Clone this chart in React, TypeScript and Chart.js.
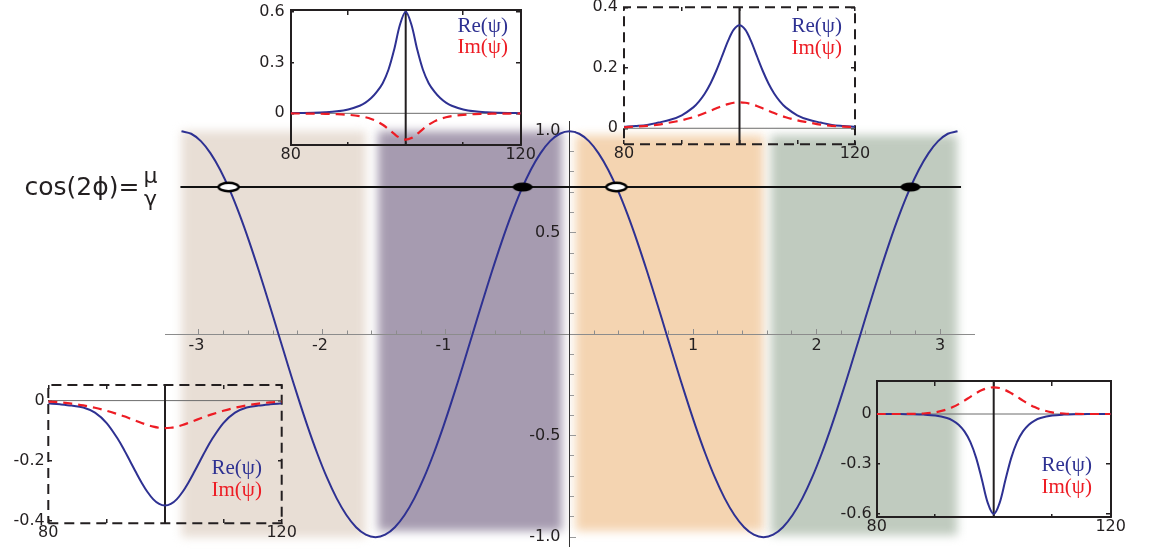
import { useEffect, useRef } from 'react';
import { Chart, registerables } from 'chart.js';

Chart.register(...registerables);

// ---------- main plot: cos(2φ) over one period ----------
const phiSamples = [
  -3.1416, -3.063, -2.9845, -2.906, -2.8274, -2.7489, -2.6704, -2.5918, -2.5133, -2.4347,
  -2.3562, -2.2777, -2.1991, -2.1206, -2.042, -1.9635, -1.885, -1.8064, -1.7279, -1.6493,
  -1.5708, -1.4923, -1.4137, -1.3352, -1.2566, -1.1781, -1.0996, -1.021, -0.9425, -0.8639,
  -0.7854, -0.7069, -0.6283, -0.5498, -0.4712, -0.3927, -0.3142, -0.2356, -0.1571, -0.0785,
  0, 0.0785, 0.1571, 0.2356, 0.3142, 0.3927, 0.4712, 0.5498, 0.6283, 0.7069,
  0.7854, 0.8639, 0.9425, 1.021, 1.0996, 1.1781, 1.2566, 1.3352, 1.4137, 1.4923,
  1.5708, 1.6493, 1.7279, 1.8064, 1.885, 1.9635, 2.042, 2.1206, 2.1991, 2.2777,
  2.3562, 2.4347, 2.5133, 2.5918, 2.6704, 2.7489, 2.8274, 2.906, 2.9845, 3.063, 3.1416,
];
const cos2phi = [
  1, 0.9877, 0.9511, 0.891, 0.809, 0.7071, 0.5878, 0.454, 0.309, 0.1564,
  0, -0.1564, -0.309, -0.454, -0.5878, -0.7071, -0.809, -0.891, -0.9511, -0.9877,
  -1, -0.9877, -0.9511, -0.891, -0.809, -0.7071, -0.5878, -0.454, -0.309, -0.1564,
  0, 0.1564, 0.309, 0.454, 0.5878, 0.7071, 0.809, 0.891, 0.9511, 0.9877,
  1, 0.9877, 0.9511, 0.891, 0.809, 0.7071, 0.5878, 0.454, 0.309, 0.1564,
  0, -0.1564, -0.309, -0.454, -0.5878, -0.7071, -0.809, -0.891, -0.9511, -0.9877,
  -1, -0.9877, -0.9511, -0.891, -0.809, -0.7071, -0.5878, -0.454, -0.309, -0.1564,
  0, 0.1564, 0.309, 0.454, 0.5878, 0.7071, 0.809, 0.891, 0.9511, 0.9877, 1,
];

// the level μ/γ and where cos(2φ) meets it
const muOverGamma = 0.725;
const levelSpan = [-3.15, 3.17];
const openRoots = [-2.76, 0.38];
const filledRoots = [-0.38, 2.76];

// axis ticks
const xMajorTicks = [-3, -2, -1, 1, 2, 3];
const xMajorLabels = ['-3', '-2', '-1', '1', '2', '3'];
const yMajorTicks = [-1, -0.5, 0.5, 1];
const yMajorLabels = ['-1.0', '-0.5', '0.5', '1.0'];
const xMinorStep = 0.2;
const yMinorStep = 0.1;

// shaded φ sectors
const sectorStart = [-3.14, -1.55, 0.05, 1.63];
const sectorEnd = [-1.65, -0.06, 1.57, 3.14];
const sectorTop = [1.0, 1.0, 0.98, 0.98];
const sectorBottom = [-1.0, -0.97, -0.97, -0.99];
const sectorColors = ['#e8ded5', '#a69bb0', '#f4d4b1', '#c0cbbf'];

// ---------- insets: profiles of ψ ----------
const insetX = [
  80, 82, 84, 86, 88, 90, 92, 93, 94, 95, 96, 97, 98, 99, 100,
  101, 102, 103, 104, 105, 106, 107, 108, 110, 112, 114, 116, 118, 120,
];
const insetCentre = 100;
const insetXTicks = [80, 90, 100, 110, 120];
const insetXLabels = ['80', '', '', '', '120'];

const reUpperLeft = [
  0.001, 0.002, 0.0036, 0.0066, 0.012, 0.023, 0.045, 0.063, 0.09, 0.128, 0.178, 0.257, 0.377, 0.523, 0.6,
  0.523, 0.377, 0.257, 0.178, 0.128, 0.09, 0.063, 0.045, 0.023, 0.012, 0.0066, 0.0036, 0.002, 0.001,
];
const imUpperLeft = [
  -0.0008, -0.0012, -0.0018, -0.0029, -0.0049, -0.0087, -0.0165, -0.0233, -0.0332, -0.0475, -0.0675, -0.0931, -0.1216, -0.1455, -0.155,
  -0.1455, -0.1216, -0.0931, -0.0675, -0.0475, -0.0332, -0.0233, -0.0165, -0.0087, -0.0049, -0.0029, -0.0018, -0.0012, -0.0008,
];
const yTicksUpperLeft = [0, 0.3, 0.6];
const yLabelsUpperLeft = ['0', '0.3', '0.6'];

const reUpperRight = [
  0.0048, 0.0075, 0.011, 0.019, 0.028, 0.043, 0.069, 0.089, 0.115, 0.149, 0.191, 0.239, 0.288, 0.326, 0.341,
  0.326, 0.288, 0.239, 0.191, 0.149, 0.115, 0.089, 0.069, 0.043, 0.028, 0.019, 0.011, 0.0075, 0.0048,
];
const imUpperRight = [
  0.0034, 0.0056, 0.0082, 0.012, 0.0191, 0.0264, 0.0366, 0.043, 0.0502, 0.058, 0.0661, 0.0738, 0.08, 0.0845, 0.086,
  0.0845, 0.08, 0.0738, 0.0661, 0.058, 0.0502, 0.043, 0.0366, 0.0264, 0.0191, 0.012, 0.0082, 0.0056, 0.0034,
];
const yTicksUpperRight = [0, 0.2, 0.4];
const yLabelsUpperRight = ['0', '0.2', '0.4'];

const reLowerLeft = [
  -0.0091, -0.0123, -0.0165, -0.0231, -0.0403, -0.0751, -0.1307, -0.1647, -0.2011, -0.2382, -0.2736, -0.3047, -0.3291, -0.3446, -0.35,
  -0.3446, -0.3291, -0.3047, -0.2736, -0.2382, -0.2011, -0.1647, -0.1307, -0.0751, -0.0403, -0.0231, -0.0165, -0.0123, -0.0091,
];
const imLowerLeft = [
  -0.0032, -0.006, -0.0101, -0.0161, -0.0239, -0.034, -0.046, -0.0524, -0.0598, -0.0672, -0.0745, -0.0814, -0.0869, -0.0906, -0.092,
  -0.0906, -0.0869, -0.0814, -0.0745, -0.0672, -0.0598, -0.0524, -0.046, -0.034, -0.0239, -0.0161, -0.0101, -0.006, -0.0032,
];
const yTicksLowerLeft = [-0.4, -0.2, 0];
const yLabelsLowerLeft = ['-0.4', '-0.2', '0'];

const reLowerRight = [
  0, -0.0002, -0.0005, -0.0013, -0.0034, -0.009, -0.024, -0.039, -0.064, -0.104, -0.167, -0.263, -0.396, -0.535, -0.6,
  -0.535, -0.396, -0.263, -0.167, -0.104, -0.064, -0.039, -0.024, -0.009, -0.0034, -0.0013, -0.0005, -0.0002, 0,
];
const imLowerRight = [
  0, 0, 0.0001, 0.0007, 0.003, 0.0102, 0.0275, 0.0414, 0.0594, 0.0803, 0.103, 0.1248, 0.1434, 0.1557, 0.16,
  0.1557, 0.1434, 0.1248, 0.103, 0.0803, 0.0594, 0.0414, 0.0275, 0.0102, 0.003, 0.0007, 0.0001, 0, 0,
];
const yTicksLowerRight = [-0.6, -0.3, 0];
const yLabelsLowerRight = ['-0.6', '-0.3', '0'];

const reName = 'Re(ψ)';
const imName = 'Im(ψ)';

// ---------- styling ----------
const NAVY = '#2e3192';
const RED = '#ed1c24';
const INK = '#231f20';
const SANS = '"DejaVu Sans", "Liberation Sans", sans-serif';
const SERIF = '"Liberation Serif", "Times New Roman", serif';
const PAGE_W = 1151;
const PAGE_H = 550;
const SMOOTH = 0.33;

// main plot geometry
const MAIN_H = 566;
const MAIN_PAD = { left: 165, right: 177, top: 121.7, bottom: 19.3 };
const X_RANGE = { min: -3.275, max: 3.275 };
const Y_RANGE = { min: -1.047, max: 1.047 };

type Frame = { left: number; top: number; width: number; height: number };
type InsetSpec = {
  frame: Frame;
  yMin: number;
  yMax: number;
  yTicks: number[];
  yLabels: string[];
  re: number[];
  im: number[];
  dashed: boolean;
  labelGap: number;
  legendRight: number;
  legendY: [number, number];
};

const INSETS: InsetSpec[] = [
  {
    frame: { left: 290.7, top: 9.5, width: 230, height: 135.5 },
    yMin: -0.187, yMax: 0.613,
    yTicks: yTicksUpperLeft, yLabels: yLabelsUpperLeft,
    re: reUpperLeft, im: imUpperLeft,
    dashed: false, labelGap: 6, legendRight: 508, legendY: [26, 47],
  },
  {
    frame: { left: 624, top: 7.3, width: 231, height: 137 },
    yMin: -0.053, yMax: 0.4,
    yTicks: yTicksUpperRight, yLabels: yLabelsUpperRight,
    re: reUpperRight, im: imUpperRight,
    dashed: true, labelGap: 6, legendRight: 842, legendY: [26, 48],
  },
  {
    frame: { left: 48.3, top: 385, width: 233.4, height: 138.3 },
    yMin: -0.409, yMax: 0.052,
    yTicks: yTicksLowerLeft, yLabels: yLabelsLowerLeft,
    re: reLowerLeft, im: imLowerLeft,
    dashed: true, labelGap: 3.5, legendRight: 262, legendY: [468, 490],
  },
  {
    frame: { left: 876.7, top: 381, width: 234, height: 135.7 },
    yMin: -0.616, yMax: 0.198,
    yTicks: yTicksLowerRight, yLabels: yLabelsLowerRight,
    re: reLowerRight, im: imLowerRight,
    dashed: false, labelGap: 5, legendRight: 1092, legendY: [465, 487.5],
  },
];

const INSET_MARGIN = { left: 56, right: 30, top: 22, bottom: 32 };

function canvasBox(f: Frame) {
  const left = Math.floor(f.left - INSET_MARGIN.left);
  const top = Math.floor(f.top - INSET_MARGIN.top);
  const right = Math.ceil(f.left + f.width + INSET_MARGIN.right);
  const bottom = Math.ceil(f.top + f.height + INSET_MARGIN.bottom);
  return {
    left,
    top,
    width: right - left,
    height: bottom - top,
    padding: {
      left: f.left - left,
      right: right - (f.left + f.width),
      top: f.top - top,
      bottom: bottom - (f.top + f.height),
    },
  };
}

function ellipseMark(w: number, h: number, rx: number, ry: number, fill: string, stroke: number) {
  const c = document.createElement('canvas');
  c.width = w;
  c.height = h;
  const g = c.getContext('2d') as CanvasRenderingContext2D;
  g.beginPath();
  g.ellipse(w / 2, h / 2, rx, ry, 0, 0, Math.PI * 2);
  g.fillStyle = fill;
  g.fill();
  if (stroke > 0) {
    g.lineWidth = stroke;
    g.strokeStyle = '#000';
    g.stroke();
  }
  return c;
}

const keepMultiples = (step: number) => (scale: any) => {
  scale.ticks = scale.ticks.filter((t: any) => Math.abs(t.value / step - Math.round(t.value / step)) < 1e-6);
};

// soft-edged sector shading behind everything
const sectorPlugin = {
  id: 'sectors',
  beforeDraw(chart: any) {
    const { ctx, scales } = chart;
    ctx.save();
    ctx.filter = 'blur(5px)';
    sectorStart.forEach((s, i) => {
      const x0 = scales.x.getPixelForValue(s);
      const x1 = scales.x.getPixelForValue(sectorEnd[i]);
      const y0 = scales.y.getPixelForValue(sectorTop[i]);
      const y1 = scales.y.getPixelForValue(sectorBottom[i]);
      ctx.fillStyle = sectorColors[i];
      ctx.fillRect(x0, y0, x1 - x0, y1 - y0);
    });
    ctx.restore();
  },
};

// "cos(2ϕ)= μ/γ" next to the level line
const relationPlugin = {
  id: 'relation',
  afterDraw(chart: any) {
    const { ctx, scales } = chart;
    const yLine = scales.y.getPixelForValue(muOverGamma);
    const xStart = scales.x.getPixelForValue(levelSpan[0]);
    ctx.save();
    ctx.fillStyle = INK;
    ctx.textBaseline = 'alphabetic';
    ctx.font = `25px ${SANS}`;
    ctx.textAlign = 'right';
    ctx.fillText('cos(2ϕ)=', xStart - 41, yLine + 8);
    ctx.font = `22px ${SANS}`;
    ctx.textAlign = 'center';
    ctx.fillText('μ', xStart - 30, yLine - 4);
    ctx.fillText('γ', xStart - 30, yLine + 19);
    ctx.restore();
  },
};

function buildMain(canvas: HTMLCanvasElement) {
  const openMark = ellipseMark(26, 14, 10, 4.2, '#ffffff', 2.4);
  const filledMark = ellipseMark(24, 12, 10, 4.6, '#000000', 0);
  const plotW = PAGE_W - MAIN_PAD.left - MAIN_PAD.right;
  const labelPos = (-9 * (X_RANGE.max - X_RANGE.min)) / plotW;
  const tickFont = { family: SANS, size: 16 };

  return new Chart(canvas, {
    type: 'scatter',
    data: {
      datasets: [
        {
          data: openRoots.map((x) => ({ x, y: muOverGamma })),
          pointStyle: openMark as any,
          pointRadius: 6,
          showLine: false,
        },
        {
          data: filledRoots.map((x) => ({ x, y: muOverGamma })),
          pointStyle: filledMark as any,
          pointRadius: 6,
          showLine: false,
        },
        {
          data: phiSamples.map((x, i) => ({ x, y: cos2phi[i] })),
          borderColor: NAVY,
          borderWidth: 2,
          pointRadius: 0,
          showLine: true,
          tension: SMOOTH,
        },
        {
          data: levelSpan.map((x) => ({ x, y: muOverGamma })),
          borderColor: '#111111',
          borderWidth: 2,
          pointRadius: 0,
          showLine: true,
        },
      ],
    },
    options: {
      animation: false,
      responsive: false,
      events: [],
      layout: { padding: MAIN_PAD },
      plugins: { legend: { display: false }, tooltip: { enabled: false } },
      scales: {
        x: {
          type: 'linear',
          axis: 'x',
          min: X_RANGE.min,
          max: X_RANGE.max,
          position: { y: 0 },
          afterBuildTicks: (s: any) => {
            s.ticks = xMajorTicks.map((value) => ({ value }));
          },
          ticks: {
            callback: (_v: any, i: number) => (xMajorTicks[i] < 0 ? xMajorLabels[i] + ' ' : xMajorLabels[i]),
            font: tickFont,
            color: INK,
            padding: 8,
            autoSkip: false,
            maxRotation: 0,
          },
          grid: { drawOnChartArea: false, drawTicks: true, tickLength: -6, color: '#8c8c8c', lineWidth: 1 },
          border: { display: true, color: '#8c8c8c', width: 1 },
        },
        xMinor: {
          type: 'linear',
          axis: 'x',
          min: X_RANGE.min,
          max: X_RANGE.max,
          position: { y: 0 },
          ticks: { display: false, stepSize: xMinorStep },
          afterBuildTicks: keepMultiples(xMinorStep),
          grid: { drawOnChartArea: false, drawTicks: true, tickLength: -3.5, color: '#8c8c8c', lineWidth: 1 },
          border: { display: false },
        },
        y: {
          type: 'linear',
          axis: 'y',
          min: Y_RANGE.min,
          max: Y_RANGE.max,
          position: { x: 0 },
          afterBuildTicks: (s: any) => {
            s.ticks = yMajorTicks.map((value) => ({ value }));
          },
          ticks: { display: false },
          grid: { drawOnChartArea: false, drawTicks: true, tickLength: -7, color: '#999999', lineWidth: 1 },
          border: { display: true, color: '#333333', width: 1 },
        },
        yMinor: {
          type: 'linear',
          axis: 'y',
          min: Y_RANGE.min,
          max: Y_RANGE.max,
          position: { x: 0 },
          ticks: { display: false, stepSize: yMinorStep },
          afterBuildTicks: keepMultiples(yMinorStep),
          grid: { drawOnChartArea: false, drawTicks: true, tickLength: -4, color: '#999999', lineWidth: 1 },
          border: { display: false },
        },
        yText: {
          type: 'linear',
          axis: 'y',
          min: Y_RANGE.min,
          max: Y_RANGE.max,
          position: { x: labelPos },
          afterBuildTicks: (s: any) => {
            s.ticks = yMajorTicks.map((value) => ({ value }));
          },
          ticks: {
            callback: (_v: any, i: number) => yMajorLabels[i],
            font: tickFont,
            color: INK,
            padding: 0,
            autoSkip: false,
          },
          grid: { display: false },
          border: { display: false },
        },
      },
    } as any,
    plugins: [sectorPlugin, relationPlugin],
  });
}

function buildInset(canvas: HTMLCanvasElement, spec: InsetSpec) {
  const box = canvasBox(spec.frame);
  const xMin = insetX[0];
  const xMax = insetX[insetX.length - 1];
  // solid frames come from the axis borders, dashed ones from a traced outline
  const frameLine = { display: !spec.dashed, color: INK, width: 2 };
  const tickFont = { family: SANS, size: 16 };
  const labelAt = xMin - (spec.labelGap * (xMax - xMin)) / spec.frame.width;
  const pts = (ys: number[]) => insetX.map((x, i) => ({ x, y: ys[i] }));
  const setXTicks = (s: any) => {
    s.ticks = insetXTicks.map((value) => ({ value }));
  };
  const setYTicks = (s: any) => {
    s.ticks = spec.yTicks.map((value) => ({ value }));
  };
  const innerTick = { drawOnChartArea: false, drawTicks: true, color: INK, lineWidth: 1.5 };

  const legendPlugin = {
    id: 'insetLegend',
    afterDraw(chart: any) {
      const ctx = chart.ctx;
      ctx.save();
      ctx.font = `21px ${SERIF}`;
      ctx.textAlign = 'right';
      ctx.textBaseline = 'middle';
      ctx.fillStyle = NAVY;
      ctx.fillText(reName, spec.legendRight - box.left, spec.legendY[0] - box.top);
      ctx.fillStyle = RED;
      ctx.fillText(imName, spec.legendRight - box.left, spec.legendY[1] - box.top);
      ctx.restore();
    },
  };

  const datasets: any[] = [
    {
      data: pts(spec.im),
      borderColor: RED,
      borderWidth: 2.2,
      borderDash: [9, 6],
      pointRadius: 0,
      showLine: true,
      tension: SMOOTH,
    },
    {
      data: pts(spec.re),
      borderColor: NAVY,
      borderWidth: 2,
      pointRadius: 0,
      showLine: true,
      tension: SMOOTH,
    },
    {
      data: [
        { x: insetCentre, y: spec.yMin },
        { x: insetCentre, y: spec.yMax },
      ],
      borderColor: INK,
      borderWidth: 2,
      pointRadius: 0,
      showLine: true,
    },
    {
      data: [
        { x: xMin, y: 0 },
        { x: xMax, y: 0 },
      ],
      borderColor: '#6d6d6d',
      borderWidth: 1,
      pointRadius: 0,
      showLine: true,
    },
  ];
  if (spec.dashed) {
    datasets.push({
      data: [
        { x: xMin, y: spec.yMin },
        { x: xMax, y: spec.yMin },
        { x: xMax, y: spec.yMax },
        { x: xMin, y: spec.yMax },
        { x: xMin, y: spec.yMin },
      ],
      borderColor: INK,
      borderWidth: 2,
      borderDash: [10, 6],
      borderCapStyle: 'butt',
      pointRadius: 0,
      showLine: true,
      clip: false,
    });
  }

  return new Chart(canvas, {
    type: 'scatter',
    data: { datasets },
    options: {
      animation: false,
      responsive: false,
      events: [],
      layout: { padding: box.padding },
      plugins: { legend: { display: false }, tooltip: { enabled: false } },
      scales: {
        x: {
          type: 'linear',
          axis: 'x',
          min: xMin,
          max: xMax,
          position: { y: spec.yMin },
          afterBuildTicks: setXTicks,
          ticks: {
            callback: (_v: any, i: number) => insetXLabels[i],
            font: tickFont,
            color: INK,
            padding: 4.4,
            autoSkip: false,
            maxRotation: 0,
          },
          grid: { ...innerTick, tickLength: -4 },
          border: frameLine,
        },
        xTop: {
          type: 'linear',
          axis: 'x',
          min: xMin,
          max: xMax,
          position: { y: spec.yMax },
          afterBuildTicks: setXTicks,
          ticks: { display: false },
          grid: { ...innerTick, tickLength: 4 },
          border: frameLine,
        },
        y: {
          type: 'linear',
          axis: 'y',
          min: spec.yMin,
          max: spec.yMax,
          position: { x: xMin },
          afterBuildTicks: setYTicks,
          ticks: { display: false },
          grid: { ...innerTick, tickLength: -4 },
          border: frameLine,
        },
        yRight: {
          type: 'linear',
          axis: 'y',
          min: spec.yMin,
          max: spec.yMax,
          position: { x: xMax },
          afterBuildTicks: setYTicks,
          ticks: { display: false },
          grid: { ...innerTick, tickLength: 4 },
          border: frameLine,
        },
        yText: {
          type: 'linear',
          axis: 'y',
          min: spec.yMin,
          max: spec.yMax,
          position: { x: labelAt },
          afterBuildTicks: setYTicks,
          ticks: {
            callback: (_v: any, i: number) => spec.yLabels[i],
            font: tickFont,
            color: INK,
            padding: 0,
            autoSkip: false,
          },
          grid: { display: false },
          border: { display: false },
        },
      },
    } as any,
    plugins: [legendPlugin],
  });
}

export default function App() {
  const mainRef = useRef<HTMLCanvasElement | null>(null);
  const insetRefs = useRef<(HTMLCanvasElement | null)[]>([]);

  useEffect(() => {
    const charts: Chart[] = [];
    if (mainRef.current) charts.push(buildMain(mainRef.current));
    INSETS.forEach((spec, i) => {
      const c = insetRefs.current[i];
      if (c) charts.push(buildInset(c, spec));
    });
    return () => charts.forEach((c) => c.destroy());
  }, []);

  return (
    <div
      style={{
        position: 'absolute',
        left: 0,
        top: 0,
        width: PAGE_W,
        height: PAGE_H,
        overflow: 'hidden',
        background: '#ffffff',
      }}
    >
      <canvas
        ref={mainRef}
        width={PAGE_W}
        height={MAIN_H}
        style={{ position: 'absolute', left: 0, top: 0, width: PAGE_W, height: MAIN_H }}
      />
      {INSETS.map((spec, i) => {
        const box = canvasBox(spec.frame);
        return (
          <canvas
            key={i}
            ref={(el) => {
              insetRefs.current[i] = el;
            }}
            width={box.width}
            height={box.height}
            style={{ position: 'absolute', left: box.left, top: box.top, width: box.width, height: box.height }}
          />
        );
      })}
    </div>
  );
}
